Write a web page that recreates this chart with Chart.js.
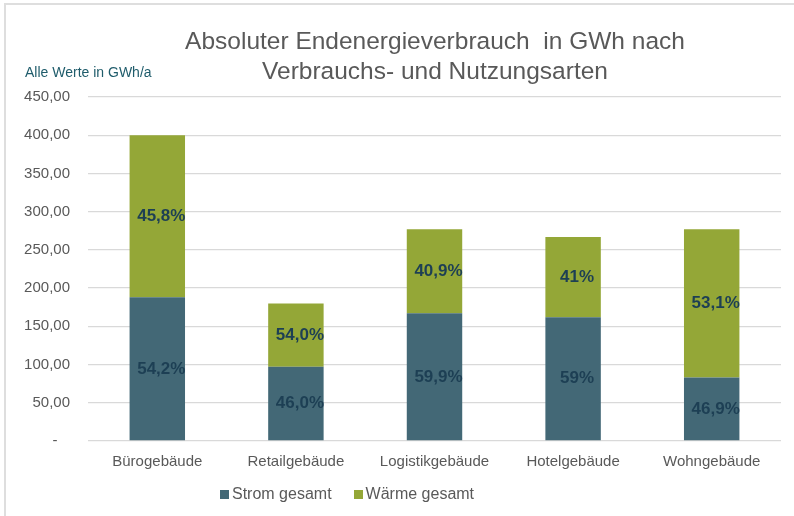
<!DOCTYPE html>
<html lang="de">
<head>
<meta charset="utf-8">
<script src="https://cdn.jsdelivr.net/npm/chart.js@4.4.1/dist/chart.umd.min.js"></script>
<style>
    html, body { margin: 0; padding: 0; background: #fff; overflow: hidden; }
    .frame {
        position: relative;
        width: 794px;
        height: 516px;
        overflow: hidden;
        font-family: "Liberation Sans", Arial, sans-serif;
    }
    .frame::before {
        content: '';
        position: absolute;
        left: 4px; top: 3px; width: 900px; height: 600px;
        border-top: 2px solid #dedede;
        border-left: 2px solid #dedede;
        pointer-events: none;
    }
    #energyChart { position: absolute; left: 0; top: 0; }
    .chart-title {
        position: absolute;
        left: 0; right: 0; top: 26px;
        text-align: center;
        padding-left: 76px;
        font-size: 24.5px;
        line-height: 30px;
        color: #595959;
    }
    .unit-label {
        position: absolute;
        left: 25px; top: 64px;
        font-size: 14px;
        color: #1f5c6b;
    }
    .legend {
        position: absolute;
        left: 220px; top: 485px;
        display: flex;
        gap: 22px;
        font-size: 16px;
        color: #595959;
    }
    .legend span { display: flex; align-items: center; }
    .legend i { display: inline-block; width: 9px; height: 9px; margin-right: 3px; }
</style>
</head>
<body>
<div class="frame">
    <canvas id="energyChart" width="794" height="516"></canvas>
    <div class="chart-title">Absoluter Endenergieverbrauch&nbsp; in GWh nach<br>Verbrauchs- und Nutzungsarten</div>
    <div class="unit-label">Alle Werte in GWh/a</div>
    <div class="legend" id="energyLegend"></div>
</div>
<script>
const categories = ['Bürogebäude', 'Retailgebäude', 'Logistikgebäude', 'Hotelgebäude', 'Wohngebäude'];
const stromGwh = [188, 97, 167, 162, 83];
const waermeGwh = [212, 83, 110, 105, 194];
const stromShare = ['54,2%', '46,0%', '59,9%', '59%', '46,9%'];
const waermeShare = ['45,8%', '54,0%', '40,9%', '41%', '53,1%'];
const yTicks = [0, 50, 100, 150, 200, 250, 300, 350, 400, 450];

const FONT = '"Liberation Sans", Arial, sans-serif';

// percentage shares written into the middle of each stacked segment
const segmentLabels = {
    id: 'segmentLabels',
    afterDatasetsDraw(chart) {
        const { ctx } = chart;
        ctx.save();
        ctx.font = `bold 17px ${FONT}`;
        ctx.fillStyle = '#1d3f54';
        ctx.textAlign = 'center';
        ctx.textBaseline = 'middle';
        chart.data.datasets.forEach((ds, di) => {
            const meta = chart.getDatasetMeta(di);
            meta.data.forEach((bar, i) => {
                const { x, y, base } = bar.getProps(['x', 'y', 'base'], true);
                ctx.fillText(ds.shareLabels[i], x + 4, (y + base) / 2);
            });
        });
        ctx.restore();
    }
};

const chart = new Chart(document.getElementById('energyChart'), {
    type: 'bar',
    data: {
        labels: categories,
        datasets: [
            { label: 'Strom gesamt', data: stromGwh, shareLabels: stromShare, backgroundColor: '#436876' },
            { label: 'Wärme gesamt', data: waermeGwh, shareLabels: waermeShare, backgroundColor: '#94a737' }
        ]
    },
    options: {
        responsive: false,
        animation: false,
        layout: { padding: { left: 0, right: 13, top: 97, bottom: 0 } },
        datasets: { bar: { barPercentage: 0.4, categoryPercentage: 1 } },
        plugins: {
            legend: { display: false },
            title: { display: false },
            tooltip: { enabled: false }
        },
        scales: {
            x: {
                stacked: true,
                grid: { display: false, drawTicks: false },
                border: { display: false },
                ticks: { color: '#595959', font: { family: FONT, size: 15 }, padding: 12 },
                afterFit: (s) => { s.height = 75; }
            },
            y: {
                stacked: true,
                min: 0,
                max: 450,
                afterBuildTicks: (s) => { s.ticks = yTicks.map((v) => ({ value: v })); },
                grid: { color: '#d9d9d9', lineWidth: 1.3, drawTicks: false },
                border: { display: false },
                ticks: {
                    color: '#595959',
                    font: { family: FONT, size: 15 },
                    padding: 18,
                    callback: (v) => (v === 0 ? '-   ' : v.toFixed(2).replace('.', ','))
                },
                afterFit: (s) => { s.width = 88; }
            }
        }
    },
    plugins: [segmentLabels]
});

document.getElementById('energyLegend').innerHTML = chart.data.datasets.map((ds) =>
    `<span><i style="background:${ds.backgroundColor}"></i>${ds.label}</span>`
).join('');
</script>
</body>
</html>
